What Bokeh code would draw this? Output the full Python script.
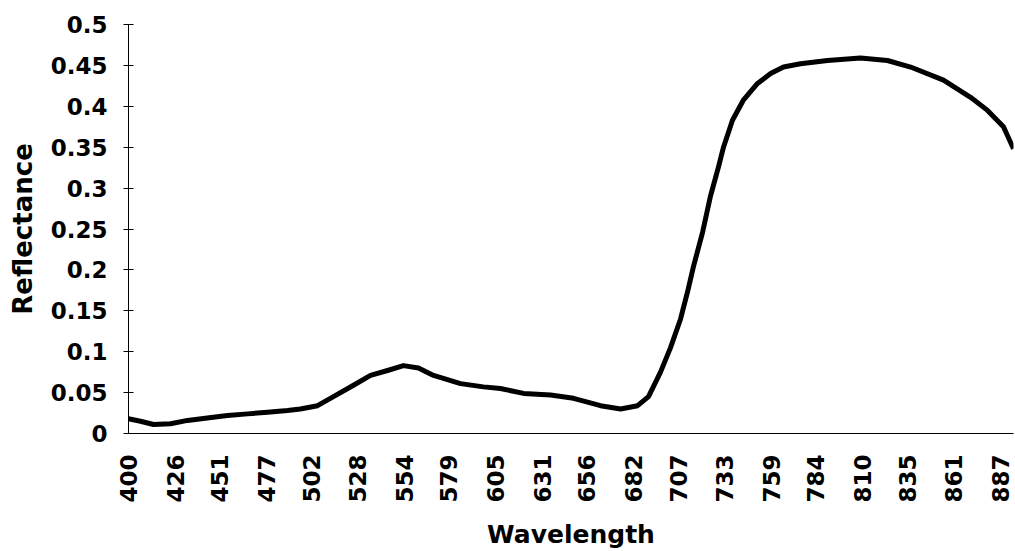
from bokeh.plotting import figure
from bokeh.models import Range1d, FixedTicker, NumeralTickFormatter
from bokeh.embed import file_html
from bokeh.resources import INLINE

wavelength = [400, 406.7, 414, 423.5, 433, 444, 455.3, 466.5, 477.7, 488.8, 496, 505.6,
              514.5, 525.7, 535.2, 544.7, 553.6, 562, 570.4, 585.5, 598.3, 607.8, 620.7,
              635.8, 648.6, 663.7, 674.9, 684.4, 690.5, 697.2, 702.8, 708.4, 712.3, 715.6,
              720.7, 725.1, 729.6, 732.4, 737.4, 743.6, 751.4, 758.7, 765.9, 775.4, 790.5,
              808.9, 824, 836.9, 855.3, 870.4, 879.9, 888.8, 894.4]
reflectance = [0.018, 0.015, 0.011, 0.012, 0.016, 0.019, 0.022, 0.024, 0.026, 0.028, 0.030, 0.034,
               0.045, 0.059, 0.071, 0.077, 0.083, 0.080, 0.071, 0.061, 0.057, 0.055, 0.049,
               0.047, 0.043, 0.034, 0.030, 0.034, 0.045, 0.075, 0.105, 0.140, 0.173, 0.204,
               0.246, 0.290, 0.326, 0.350, 0.383, 0.408, 0.428, 0.440, 0.448, 0.452, 0.456,
               0.459, 0.456, 0.448, 0.432, 0.411, 0.395, 0.375, 0.348]
x_tick_labels = [400, 426, 451, 477, 502, 528, 554, 579, 605, 631, 656, 682, 707, 733, 759,
                 784, 810, 835, 861, 887]
y_ticks = [0, 0.05, 0.1, 0.15, 0.2, 0.25, 0.3, 0.35, 0.4, 0.45, 0.5]

FONT = "DejaVu Sans"

p = figure(width=1015, height=551, output_backend="svg", toolbar_location=None,
           x_range=Range1d(400, 894.4), y_range=Range1d(0, 0.5),
           min_border_left=128, min_border_right=2, min_border_top=24, min_border_bottom=116)
p.outline_line_color = None
p.xgrid.visible = False
p.ygrid.visible = False
p.background_fill_color = "white"
p.border_fill_color = "white"

p.line(wavelength, reflectance, line_color="black", line_width=5, line_join="round")

xa = p.xaxis[0]
xa.ticker = FixedTicker(ticks=x_tick_labels)
xa.major_label_orientation = 1.5707963
xa.major_tick_in = 0
xa.major_tick_out = 0
xa.minor_tick_line_color = None
xa.major_label_standoff = 21
xa.major_label_text_font = FONT
xa.major_label_text_font_style = "bold"
xa.major_label_text_font_size = "23px"
xa.major_label_text_color = "black"
xa.axis_label = "Wavelength"
xa.axis_label_text_font = FONT
xa.axis_label_text_font_style = "bold"
xa.axis_label_text_font_size = "25px"
xa.axis_label_text_color = "black"
xa.axis_label_standoff = 14
xa.axis_line_color = "black"
xa.axis_line_width = 1

ya = p.yaxis[0]
ya.ticker = FixedTicker(ticks=y_ticks)
ya.formatter = NumeralTickFormatter(format="0.[00]")
ya.major_tick_in = 5
ya.major_tick_out = 5
ya.major_tick_line_color = "black"
ya.minor_tick_line_color = None
ya.major_label_standoff = 16
ya.major_label_text_font = FONT
ya.major_label_text_font_style = "bold"
ya.major_label_text_font_size = "23px"
ya.major_label_text_color = "black"
ya.axis_label = "Reflectance"
ya.axis_label_text_font = FONT
ya.axis_label_text_font_style = "bold"
ya.axis_label_text_font_size = "26px"
ya.axis_label_text_color = "black"
ya.axis_label_standoff = 10
ya.axis_line_color = "black"
ya.axis_line_width = 1

open("out.html", "w").write(file_html(p, INLINE))
